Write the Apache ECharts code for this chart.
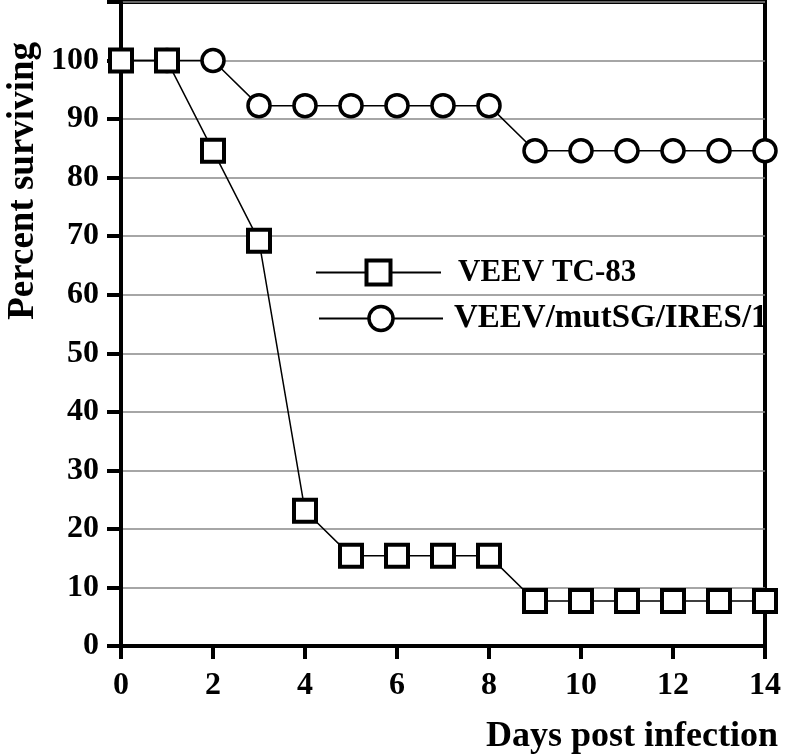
<!DOCTYPE html>
<html><head><meta charset="utf-8">
<script src="https://cdn.jsdelivr.net/npm/echarts@6/dist/echarts.min.js"></script>
<style>html,body{margin:0;padding:0;background:#fff}#c{width:800px;height:756px}</style>
</head><body><div id="c"></div>
<script>
const days = [0,1,2,3,4,5,6,7,8,9,10,11,12,13,14];
const tc83 = [100,100,84.6,69.2,23.1,15.4,15.4,15.4,15.4,7.7,7.7,7.7,7.7,7.7,7.7];
const mutSG = [100,100,100,92.3,92.3,92.3,92.3,92.3,92.3,84.6,84.6,84.6,84.6,84.6,84.6];
const seriesNames = ['VEEV TC-83','VEEV/mutSG/IRES/1'];
const yTitle = 'Percent surviving';
const xTitle = 'Days post infection';

const font = '"Liberation Serif","Times New Roman",serif';
const legText = {fontFamily:font,fontWeight:'bold',color:'#000'};
const chart = echarts.init(document.getElementById('c'));
chart.setOption({
  animation:false,
  backgroundColor:'#fff',
  grid:{left:121,right:35,top:2,bottom:110,show:true,borderColor:'#000',borderWidth:4,backgroundColor:'transparent'},
  legend:[
    {orient:'vertical', left:310, top:252, itemWidth:125, itemHeight:30, itemGap:0,
     itemStyle:{borderWidth:4},
     data:[seriesNames[0]], textStyle:Object.assign({fontSize:31,padding:[0,0,0,12]},legText)},
    {orient:'vertical', left:313, top:297, itemWidth:124, itemHeight:30, itemGap:0,
     itemStyle:{borderWidth:3.5},
     data:[seriesNames[1]], textStyle:Object.assign({fontSize:33,padding:[0,0,0,6]},legText)}
  ],
  xAxis:{type:'value',min:0,max:14,interval:2,
    axisLine:{show:true,lineStyle:{color:'#000',width:4}},
    axisTick:{show:true,length:13,lineStyle:{color:'#000',width:4}},
    axisLabel:{fontFamily:font,fontWeight:'bold',fontSize:32,color:'#000',margin:24},
    splitLine:{show:false}},
  yAxis:{type:'value',min:0,max:110,interval:10,
    axisLine:{show:true,lineStyle:{color:'#000',width:4}},
    axisTick:{show:true,length:14,lineStyle:{color:'#000',width:4}},
    axisLabel:{fontFamily:font,fontWeight:'bold',fontSize:32,color:'#000',margin:22,
      formatter:v=>v>100?'':v},
    splitLine:{show:true,lineStyle:{color:'#888',width:1.5}}},
  graphic:[
    {type:'text',left:5,top:42,rotation:Math.PI/2,style:{text:yTitle,font:'bold 37px '+font,fill:'#000'}},
    {type:'text',right:22,top:719,style:{text:xTitle,font:'bold 36px '+font,fill:'#000'}}
  ],
  series:[
    {name:seriesNames[1],type:'line',data:days.map((d,i)=>[d,mutSG[i]]),z:2,
     symbol:'circle',symbolSize:22,
     lineStyle:{color:'#000',width:1.5},
     itemStyle:{color:'#fff',borderColor:'#000',borderWidth:3.5}},
    {name:seriesNames[0],type:'line',data:days.map((d,i)=>[d,tc83[i]]),z:3,
     symbol:'rect',symbolSize:22,
     lineStyle:{color:'#000',width:1.5},
     itemStyle:{color:'#fff',borderColor:'#000',borderWidth:4}}
  ]
});
</script></body></html>
